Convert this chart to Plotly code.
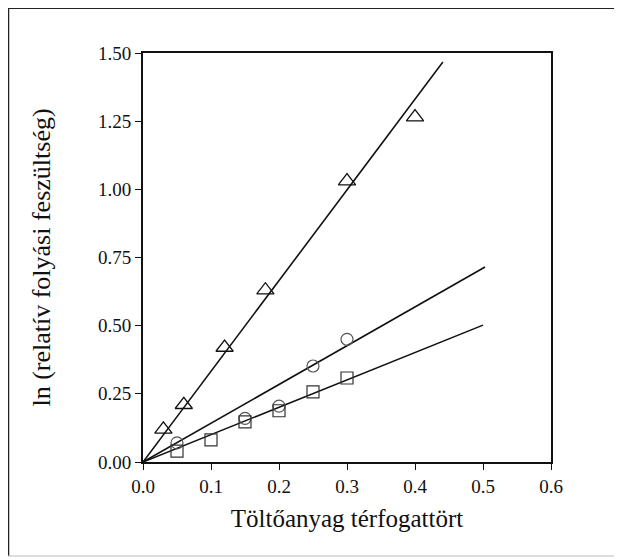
import plotly.graph_objects as go

# Data
tri_x = [0.03, 0.06, 0.12, 0.18, 0.30, 0.40]
tri_y = [0.12, 0.21, 0.42, 0.63, 1.03, 1.265]
circ_x = [0.05, 0.15, 0.20, 0.25, 0.30]
circ_y = [0.07, 0.16, 0.205, 0.352, 0.45]
sq_x = [0.05, 0.10, 0.15, 0.20, 0.25, 0.30]
sq_y = [0.04, 0.081, 0.147, 0.188, 0.257, 0.308]

# Fitted lines (end points)
tri_fit_x = [0.0, 0.441]
tri_fit_y = [0.0, 1.467]
circ_fit_x = [0.0, 0.503]
circ_fit_y = [0.0, 0.715]
sq_fit_x = [0.0, 0.50]
sq_fit_y = [0.0, 0.502]

x_ticks = [0.0, 0.1, 0.2, 0.3, 0.4, 0.5, 0.6]
y_ticks = [0.00, 0.25, 0.50, 0.75, 1.00, 1.25, 1.50]

fig = go.Figure()
line_style = dict(color="#111111", width=1.6)
for fx, fy in [(tri_fit_x, tri_fit_y), (circ_fit_x, circ_fit_y), (sq_fit_x, sq_fit_y)]:
    fig.add_trace(go.Scatter(x=fx, y=fy, mode="lines", line=line_style,
                             showlegend=False, hoverinfo="skip"))

fig.add_trace(go.Scatter(x=tri_x, y=tri_y, mode="markers", showlegend=False,
                         marker=dict(symbol="triangle-up-open", size=15,
                                     color="#111111", line=dict(width=1.3, color="#111111"))))
fig.add_trace(go.Scatter(x=circ_x, y=circ_y, mode="markers", showlegend=False,
                         marker=dict(symbol="circle-open", size=12,
                                     color="#555555", line=dict(width=1.2, color="#555555"))))
fig.add_trace(go.Scatter(x=sq_x, y=sq_y, mode="markers", showlegend=False,
                         marker=dict(symbol="square-open", size=12,
                                     color="#333333", line=dict(width=1.2, color="#333333"))))

font_family = "Liberation Serif, Times New Roman, serif"

fig.update_xaxes(range=[0, 0.6], tickvals=x_ticks, ticktext=[f"{v:.1f}" for v in x_ticks],
                 showgrid=False, zeroline=False, showline=True, linecolor="#111111", linewidth=1.8,
                 mirror=True, ticks="outside", ticklen=6, tickcolor="#111111", tickwidth=1.4,
                 tickfont=dict(family=font_family, size=19, color="#111111"),
                 title=dict(text="Töltőanyag térfogattört",
                            font=dict(family=font_family, size=25, color="#111111"), standoff=14))
fig.update_yaxes(range=[0, 1.5], tickvals=y_ticks, ticktext=[f"{v:.2f}" for v in y_ticks],
                 showgrid=False, zeroline=False, showline=True, linecolor="#111111", linewidth=1.8,
                 mirror=True, ticks="outside", ticklen=6, tickcolor="#111111", tickwidth=1.4,
                 tickfont=dict(family=font_family, size=19, color="#111111"),
                 title=dict(text="ln (relatív folyási feszültség)",
                            font=dict(family=font_family, size=26, color="#111111"), standoff=40))

# page is offset by an 8px body margin; coordinates below are figure coordinates
OFF = 8
L, R, T, B = 143 - OFF, 551 - OFF, 53 - OFF, 462 - OFF
W, H = 622, 560
pw, ph = R - L, B - T

def px(x):
    return (x - L) / pw

def py(y):
    return (B - y) / ph

shapes = [
    dict(type="line", xref="paper", yref="paper", x0=px(0), x1=px(622), y0=py(0), y1=py(0),
         line=dict(color="#222222", width=2)),
    dict(type="line", xref="paper", yref="paper", x0=px(0), x1=px(0), y0=py(0), y1=py(548),
         line=dict(color="#222222", width=2.5)),
    dict(type="line", xref="paper", yref="paper", x0=px(0), x1=px(607), y0=py(548), y1=py(548),
         line=dict(color="#bbbbbb", width=1)),
    dict(type="line", xref="paper", yref="paper", x0=px(607), x1=px(607), y0=py(0), y1=py(548),
         line=dict(color="#cccccc", width=1)),
]

fig.update_layout(width=W, height=H, margin=dict(l=L, r=W - R, t=T, b=H - B),
                  paper_bgcolor="white", plot_bgcolor="white", shapes=shapes)

fig.write_html("out.html")
